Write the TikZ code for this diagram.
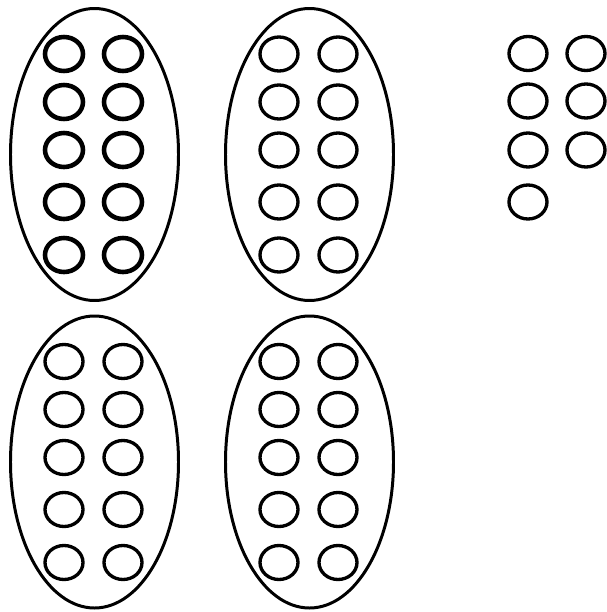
\documentclass[tikz,border=0pt]{standalone}
\usepackage{tikz}
\begin{document}
\begin{tikzpicture}[x=0.02cm,y=-0.02cm,line width=1.7pt]
  \useasboundingbox (0,0) rectangle (606,612);
  % four groups of ten
  \foreach \gx/\gy/\w in {94.5/154.5/2.6pt, 309.5/154.5/1.9pt, 94.5/462/1.9pt, 309.5/462/1.9pt}{
    \draw (\gx,\gy) ellipse (84 and 146);
    \foreach \dy in {-100.5,-52.5,-4.5,47.5,100.5}{
      \draw[line width=\w] (\gx-30.5,\gy+\dy) ellipse (19 and 17);
      \draw[line width=\w] (\gx+28.5,\gy+\dy) ellipse (19 and 17);
    }
  }
  % seven ones
  \foreach \ux/\uy in {528/53.5, 586/53.5, 528/101, 586/101, 528/150, 586/150, 528/202}
    \draw[line width=1.9pt] (\ux,\uy) ellipse (19 and 17);
\end{tikzpicture}
\end{document}
